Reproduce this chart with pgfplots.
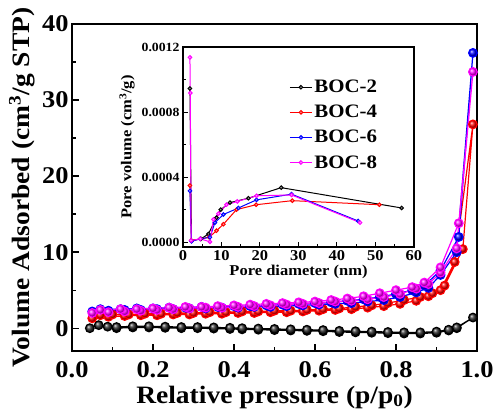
\documentclass[border=0pt]{standalone}
\usepackage{fontspec}
\setmainfont{Liberation Serif}[FakeStretch=1.1]
\usepackage{pgfplots}
\pgfplotsset{compat=1.18}
\definecolor{cRed}{RGB}{255,0,0}
\definecolor{cBlue}{RGB}{0,0,255}
\definecolor{cMag}{RGB}{255,0,255}
\begin{document}
\bfseries
\begin{tikzpicture}
\path[use as bounding box] (-72pt,-62pt) rectangle (424pt,351pt);
\begin{axis}[
  at={(0pt,0pt)}, anchor=south west,
  scale only axis, width=405pt, height=327pt,
  xmin=0, xmax=1, ymin=-3, ymax=40,
  xtick={0,0.2,0.4,0.6,0.8,1.0}, ytick={0,10,20,30,40},
  minor x tick num=1, minor y tick num=1,
  tick pos=left, tick align=inside,
  major tick length=7pt, minor tick length=4pt,
  axis line style={line width=1.5pt},
  every tick/.style={line width=1.3pt, black},
  /pgf/number format/assume math mode=true,
  xticklabel style={font=\fontsize{24}{24}\bfseries, yshift=-7pt, /pgf/number format/.cd, fixed, fixed zerofill, precision=1},
  yticklabel style={font=\fontsize{24}{24}\bfseries},
  xlabel={Relative pressure (p/p\textsubscript{0})},
  ylabel={Volume Adsorbed (cm\textsuperscript{3}/g STP)},
  label style={font=\fontsize{25}{25}\bfseries},
  xlabel style={yshift=-1pt},
  clip=false,
]
% BOC-2
\addplot[black, line width=1.2pt, mark=ball, mark size=4.3pt, mark options={ball color=black!80}] coordinates {
(0.044,0.0)(0.066,0.4)(0.088,0.2)(0.11,0.0)(0.15,0.1)(0.19,0.1)(0.23,0.05)(0.27,0.0)(0.31,0.0)(0.35,-0.05)(0.39,-0.1)(0.42,-0.15)(0.46,-0.2)(0.50,-0.25)(0.54,-0.3)(0.58,-0.35)(0.62,-0.4)(0.66,-0.5)(0.70,-0.55)(0.74,-0.6)(0.78,-0.65)(0.82,-0.7)(0.86,-0.7)(0.90,-0.6)(0.93,-0.3)(0.95,0.0)(0.99,1.4)
(0.95,0.1)(0.93,-0.2)(0.90,-0.45)(0.86,-0.55)(0.82,-0.55)(0.78,-0.5)(0.74,-0.45)(0.70,-0.4)(0.66,-0.35)(0.62,-0.25)(0.58,-0.2)(0.54,-0.15)(0.50,-0.1)(0.46,-0.05)(0.42,0.0)(0.39,0.05)(0.35,0.1)(0.31,0.15)(0.27,0.15)(0.23,0.2)(0.19,0.25)(0.15,0.25)(0.11,0.15)
};
% BOC-4
\addplot[cRed, line width=1.2pt, mark=ball, mark size=4.3pt, mark options={ball color=cRed}] coordinates {
(0.05,1.3)(0.09,1.5)(0.13,1.6)(0.17,1.7)(0.21,1.7)(0.25,1.8)(0.29,1.8)(0.33,1.9)(0.37,1.9)(0.41,2.0)(0.45,2.0)(0.49,2.1)(0.53,2.1)(0.57,2.2)(0.61,2.3)(0.65,2.4)(0.69,2.5)(0.73,2.7)(0.77,2.9)(0.81,3.2)(0.85,3.6)(0.88,4.2)(0.91,5.0)(0.945,8.7)(0.99,26.8)
(0.965,10.4)(0.92,5.6)(0.89,4.6)(0.86,4.1)(0.82,3.7)(0.78,3.3)(0.74,3.0)(0.70,2.8)(0.66,2.6)(0.62,2.5)(0.58,2.4)(0.54,2.3)(0.50,2.3)(0.46,2.2)(0.42,2.2)(0.38,2.1)(0.34,2.1)(0.30,2.0)(0.26,2.0)(0.22,1.9)(0.18,1.9)(0.14,1.8)(0.10,1.8)(0.07,1.7)
};
% BOC-6
\addplot[cBlue, line width=1.2pt, mark=ball, mark size=4.3pt, mark options={ball color=cBlue}] coordinates {
(0.05,2.2)(0.09,2.3)(0.13,2.4)(0.17,2.4)(0.21,2.5)(0.25,2.5)(0.29,2.6)(0.33,2.6)(0.37,2.7)(0.41,2.7)(0.45,2.8)(0.49,2.8)(0.53,2.9)(0.57,3.0)(0.61,3.1)(0.65,3.2)(0.69,3.3)(0.73,3.5)(0.77,3.7)(0.81,4.1)(0.85,4.7)(0.88,5.3)(0.91,7.0)(0.95,10.0)(0.99,36.2)
(0.955,12.0)(0.91,7.6)(0.87,5.6)(0.84,5.0)(0.80,4.5)(0.76,4.1)(0.72,3.8)(0.68,3.6)(0.64,3.4)(0.60,3.3)(0.56,3.2)(0.52,3.1)(0.48,3.0)(0.44,2.9)(0.40,2.9)(0.36,2.8)(0.32,2.8)(0.28,2.7)(0.24,2.7)(0.20,2.6)(0.16,2.6)(0.12,2.5)(0.07,2.5)
};
% BOC-8
\addplot[cMag, line width=1.2pt, mark=ball, mark size=4.3pt, mark options={ball color=cMag}] coordinates {
(0.05,2.0)(0.09,2.1)(0.13,2.2)(0.17,2.3)(0.21,2.4)(0.25,2.5)(0.29,2.6)(0.33,2.7)(0.37,2.7)(0.41,2.8)(0.45,2.9)(0.49,3.0)(0.53,3.1)(0.57,3.2)(0.61,3.3)(0.65,3.5)(0.69,3.6)(0.73,3.8)(0.77,4.1)(0.81,4.5)(0.85,5.2)(0.88,5.8)(0.91,7.3)(0.95,10.5)(0.99,33.7)
(0.955,13.8)(0.91,8.0)(0.87,6.0)(0.84,5.4)(0.80,5.0)(0.76,4.6)(0.72,4.2)(0.68,3.9)(0.64,3.7)(0.60,3.5)(0.56,3.4)(0.52,3.3)(0.48,3.2)(0.44,3.1)(0.40,3.0)(0.36,2.9)(0.32,2.8)(0.28,2.8)(0.24,2.7)(0.20,2.6)(0.16,2.5)(0.12,2.5)(0.07,2.4)
};
\end{axis}
\begin{axis}[
  at={(111pt,104pt)}, anchor=south west,
  scale only axis, width=231pt, height=200pt,
  axis background/.style={fill=white},
  xmin=0, xmax=60, ymin=-0.00003, ymax=0.0012,
  xtick={0,10,20,30,40,50,60}, ytick={0,0.0004,0.0008,0.0012},
  scaled y ticks=false,
  minor x tick num=1, minor y tick num=1,
  tick pos=left, tick align=inside,
  major tick length=5pt, minor tick length=3pt,
  axis line style={line width=1.1pt},
  every tick/.style={line width=1pt, black},
  /pgf/number format/assume math mode=true,
  xticklabel style={font=\fontsize{15}{15}\bfseries},
  yticklabel style={font=\fontsize{12.5}{12.5}\bfseries, /pgf/number format/.cd, fixed, fixed zerofill, precision=4},
  xlabel={Pore diameter (nm)},
  ylabel={Pore volume (cm\textsuperscript{3}/g)},
  label style={font=\fontsize{15}{15}\bfseries},
  xlabel style={yshift=2pt},
  legend style={draw=none, fill=none, at={(0.85,0.845)}, anchor=north east, font=\fontsize{19}{19}\bfseries, row sep=7pt, inner sep=0pt},
  legend cell align=left,
  legend image code/.code={\draw[mark repeat=2,mark phase=2] plot coordinates {(0pt,0pt) (11pt,0pt) (22pt,0pt)};},
  clip=false,
]
\addplot[black, line width=1pt, mark=*, mark size=1.8pt, mark options={fill=black!40}] coordinates {
(1.8,0.000945)(2.2,0.00001)(4.7,0.00002)(6.6,0.00005)(8.7,0.00015)(9.8,0.0002)(12.2,0.000243)(17,0.00027)(25.5,0.000335)(56.8,0.00021)
};
\addlegendentry{BOC-2}
\addplot[cRed, line width=1pt, mark=*, mark size=1.8pt, mark options={fill=cRed!40}] coordinates {
(1.8,0.000348)(2.2,0.00001)(4.5,0.00002)(6.8,0.00003)(8.7,0.00007)(10.5,0.00011)(13.9,0.0002)(19,0.00023)(28.4,0.000255)(51,0.00023)
};
\addlegendentry{BOC-4}
\addplot[cBlue, line width=1pt, mark=*, mark size=1.8pt, mark options={fill=cBlue!40}] coordinates {
(1.8,0.000315)(2.2,0.000005)(4.5,0.00002)(7,0.00003)(8.3,0.00012)(10.5,0.00017)(14.4,0.00021)(19.1,0.00026)(28.2,0.000295)(45.5,0.00013)
};
\addlegendentry{BOC-6}
\addplot[cMag, line width=1pt, mark=*, mark size=1.8pt, mark options={fill=cMag!40}] coordinates {
(1.8,0.001136)(1.9,0.000917)(2.1,0.00001)(4.5,0.00002)(7.0,0.000002)(7.9,0.00014)(9.2,0.000175)(11.3,0.00023)(14.1,0.00025)(19.1,0.000285)(28.2,0.00029)(46,0.00012)
};
\addlegendentry{BOC-8}
\end{axis}
\end{tikzpicture}
\end{document}
